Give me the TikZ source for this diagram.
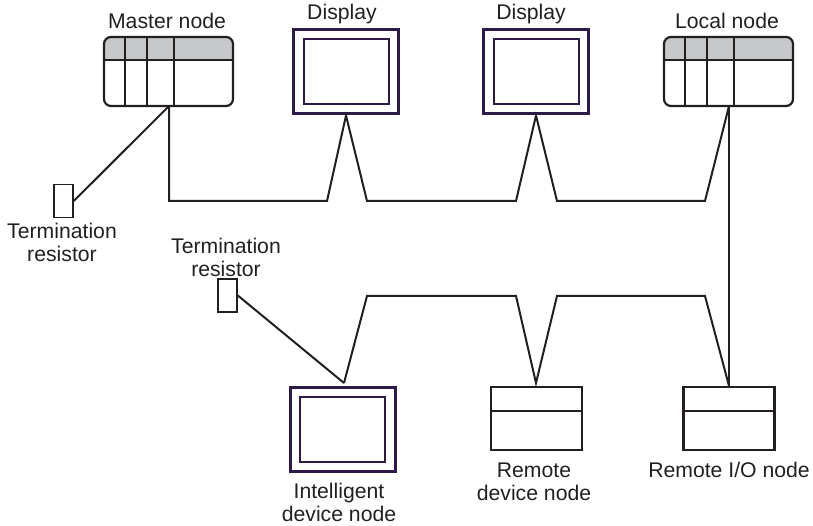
\documentclass[tikz,border=0pt]{standalone}
\usepackage{fontspec}
\setmainfont{Liberation Sans}
\definecolor{ink}{HTML}{231F20}
\definecolor{plum}{HTML}{2E1A47}
\definecolor{hdr}{HTML}{C7C8CA}
\tikzset{
  lbl/.style={font=\fontsize{21.2}{23}\selectfont,text=ink,align=center,inner sep=0pt},
  wire/.style={draw=ink,line width=2pt,line join=miter},
  unitbox/.style={draw=ink,line width=2.2pt,rounded corners=7pt},
  rule/.style={draw=ink,line width=2.2pt},
  outerscreen/.style={draw=plum,line width=3pt,fill=white,inner sep=0pt},
  innerscreen/.style={draw=plum,line width=2pt,fill=white,inner sep=0pt},
  resistor/.style={draw=ink,line width=1.6pt,fill=white,minimum width=19pt,minimum height=33pt,inner sep=0pt},
  remotebox/.style={draw=ink,line width=2.2pt,fill=white,inner sep=0pt},
}
\newcommand{\plcunit}[2]{% name, left x
  \begin{scope}[shift={(#2,0)}]
    \fill[hdr,rounded corners=7pt] (0,37) -- (129,37) -- (129,60) -- (0,60) -- cycle;
    \fill[hdr] (0,50) rectangle (129,60);
    \draw[unitbox] (0,37) rectangle (129,106);
    \draw[rule] (0,60) -- (129,60);
    \draw[rule] (21,37) -- (21,106);
    \draw[rule] (43,37) -- (43,106);
    \draw[rule] (70,37) -- (70,106);
    \node[minimum width=129pt,minimum height=69pt,inner sep=0pt] (#1) at (64.5,71.5) {};
  \end{scope}}
\newcommand{\screen}[4]{% name, centre x, top y, bottom y
  \node[outerscreen,minimum width=105pt,minimum height=#4pt-#3pt] (#1) at (#2,{(#3+#4)/2}) {};
  \node[innerscreen,minimum width=85pt,minimum height=#4pt-#3pt-19pt] (#1i) at (#2,{(#3+#4)/2}) {};}
\begin{document}
\begin{tikzpicture}[x=1pt,y=-1pt]
\useasboundingbox (0,0) rectangle (813,526);
% units
\plcunit{master}{104}
\plcunit{local}{664}
\screen{dispa}{346}{30}{114}
\screen{dispb}{536}{30}{114}
\screen{intel}{342.5}{387}{471}
\node[remotebox,minimum width=91pt,minimum height=63pt] (rdev) at (536.5,418.5) {};
\node[remotebox,minimum width=91pt,minimum height=63pt] (rio) at (729,418.5) {};
\draw[rule] (rdev.west |- 0,411) -- (rdev.east |- 0,411);
\draw[rule] (rio.west |- 0,411) -- (rio.east |- 0,411);
\node[resistor] (ra) at (63.5,201) {};
\node[resistor] (rb) at (227.5,295.5) {};
% pins
\coordinate (m1) at (169,106);
\coordinate (l1) at (729,106);
\coordinate (i1) at (344,383);
\coordinate (rd1) at (536,383);
\coordinate (ra1) at (ra.east);
\coordinate (rb1) at (rb.east);
% upper bus
\draw[wire] (m1) -- (169,201) -- (327,201) -- (dispa.south) -- (367,201) -- (516,201) -- (dispb.south) -- (557,201) -- (705,201) -- (l1);
\draw[wire] (l1) -- (rio.north);
\draw[wire] (m1) -- (ra1);
% lower bus
\draw[wire] (i1) -- (367,296) -- (516,296) -- (rd1) -- (557,296) -- (705,296) -- (rio.north);
\draw[wire] (rb1) -- (i1);
% labels
\node[lbl] (t1) at (167,21) {Master node};
\node[lbl] (t2) at (342,14) {Display};
\node[lbl] (t3) at (531,14) {Display};
\node[lbl] (t4) at (727,21) {Local node};
\node[lbl] (t5) at (62,242) {Termination\\resistor};
\node[lbl] (t6) at (226,257) {Termination\\resistor};
\node[lbl] (t7) at (339,502) {Intelligent\\device node};
\node[lbl] (t8) at (534,482) {Remote\\device node};
\node[lbl] (t9) at (729,470) {Remote I/O node};
\end{tikzpicture}
\end{document}
